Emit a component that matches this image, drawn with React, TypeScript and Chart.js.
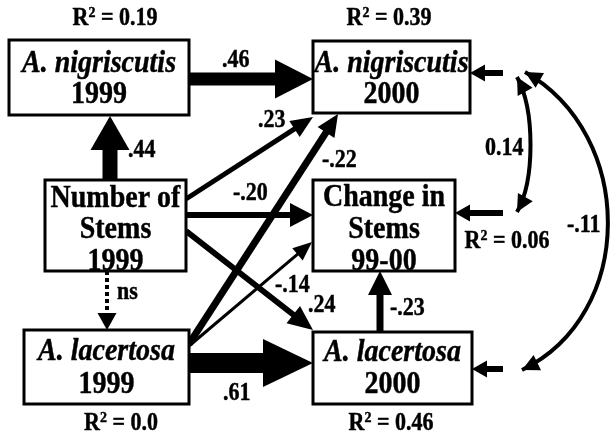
import React, { useEffect, useRef } from 'react';
import { Chart, registerables } from 'chart.js';

Chart.register(...registerables);

// ---------------- data ----------------
const nodeKeys = ['nig99', 'nig00', 'stems', 'change', 'lac99', 'lac00'];
const nodeLines = [
  ['A. nigriscutis', '1999'],
  ['A. nigriscutis', '2000'],
  ['Number of', 'Stems', '1999'],
  ['Change in', 'Stems', '99-00'],
  ['A. lacertosa', '1999'],
  ['A. lacertosa', '2000'],
];
const nodeItalicFirst = [true, true, false, false, true, true];
const r2Labels = ['0.19', '0.39', '', '0.06', '0.0', '0.46'];

const pathFrom = ['stems', 'nig99', 'stems', 'stems', 'stems', 'lac99', 'lac99', 'lac99', 'lac00', 'stems'];
const pathTo = ['nig99', 'nig00', 'nig00', 'change', 'lac00', 'nig00', 'change', 'lac00', 'change', 'lac99'];
const pathCoef = [0.44, 0.46, 0.23, -0.2, 0.24, -0.22, -0.14, 0.61, -0.23, NaN];
const pathLabels = ['.44', '.46', '.23', '-.20', '.24', '-.22', '-.14', '.61', '-.23', 'ns'];

const corrA = ['nig00', 'nig00'];
const corrB = ['change', 'lac00'];
const corrLabels = ['0.14', '-.11'];

// ---------------- layout (scale units) ----------------
const BOX: Record<string, number[]> = {
  nig99: [9, 40, 189, 115],
  nig00: [313, 41, 470, 113],
  stems: [45, 180, 186, 271],
  change: [313, 180, 455, 271],
  lac99: [24, 330, 189, 404],
  lac00: [313, 332, 472, 404],
};
const BASELINES: Record<string, number[]> = {
  nig99: [72, 103],
  nig00: [72, 103],
  stems: [207, 238, 270],
  change: [206, 238, 270],
  lac99: [360, 393],
  lac00: [361, 393],
};
const R2_POS: Record<string, number[]> = {
  nig99: [115, 25],
  nig00: [389, 25],
  change: [507, 248],
  lac99: [121, 430],
  lac00: [391, 430],
};
// [x0, y0, tipX, tipY, shaftWidth, headLen, headWidth, labelX, labelY, dashed]
const PATH_GEOM = [
  [110, 180, 110, 116, 15, 34, 39, 128, 157, 0],
  [189, 79, 313, 79, 13, 38, 39, 222, 67, 0],
  [186, 199, 313, 117, 5, 22, 19, 258, 127, 0],
  [186, 215, 313, 215, 6, 23, 24, 233, 200, 0],
  [186, 231, 313, 330, 6, 25, 22, 308, 312, 0],
  [189, 344, 338, 114, 7, 22, 20, 322, 167, 0],
  [189, 346, 312, 242, 3, 19, 16, 275, 292, 0],
  [189, 363, 313, 363, 20, 50, 48, 223, 400, 0],
  [380, 332, 380, 271, 7, 24, 24, 390, 315, 0],
  [107, 271, 107, 330, 4, 17, 19, 117, 299, 1],
];
// residual (disturbance) arrows
const RESID: Record<string, number[]> = {
  nig00: [503, 73, 470, 73],
  change: [503, 213, 455, 213],
  lac00: [503, 369, 472, 369],
};
// curved correlations: [p0x,p0y,c1x,c1y,c2x,c2y,p3x,p3y,width,labelX,labelY]
const CORR_GEOM = [
  [517, 77, 535, 110, 535, 180, 517, 212, 4, 485, 155],
  [525, 72, 636, 135, 636, 315, 522, 370, 4, 567, 232],
];

const SERIF = '"Liberation Serif", "Times New Roman", serif';
const VSCALE = 1.1;

function drawArrow(ctx: CanvasRenderingContext2D, x0: number, y0: number, x1: number, y1: number,
  w: number, hl: number, hw: number, dashed: boolean) {
  const dx = x1 - x0, dy = y1 - y0;
  const L = Math.hypot(dx, dy);
  const ux = dx / L, uy = dy / L;
  const bx = x1 - ux * hl, by = y1 - uy * hl;
  ctx.save();
  ctx.strokeStyle = '#000';
  ctx.fillStyle = '#000';
  ctx.lineWidth = w;
  ctx.lineCap = 'butt';
  if (dashed) ctx.setLineDash([4, 3]);
  ctx.beginPath();
  ctx.moveTo(x0, y0);
  ctx.lineTo(bx + ux, by + uy);
  ctx.stroke();
  ctx.setLineDash([]);
  ctx.beginPath();
  ctx.moveTo(x1, y1);
  ctx.lineTo(bx - uy * hw / 2, by + ux * hw / 2);
  ctx.lineTo(bx + uy * hw / 2, by - ux * hw / 2);
  ctx.closePath();
  ctx.fill();
  ctx.restore();
}

function drawHead(ctx: CanvasRenderingContext2D, fx: number, fy: number, tx: number, ty: number, hl: number, hw: number) {
  const dx = tx - fx, dy = ty - fy;
  const L = Math.hypot(dx, dy);
  const ux = dx / L, uy = dy / L;
  const bx = tx - ux * hl, by = ty - uy * hl;
  ctx.beginPath();
  ctx.moveTo(tx, ty);
  ctx.lineTo(bx - uy * hw / 2, by + ux * hw / 2);
  ctx.lineTo(bx + uy * hw / 2, by - ux * hw / 2);
  ctx.closePath();
  ctx.fill();
}

function textV(ctx: CanvasRenderingContext2D, t: string, x: number, y: number) {
  ctx.save();
  ctx.translate(x, y);
  ctx.scale(1, VSCALE);
  ctx.fillText(t, 0, 0);
  ctx.lineWidth = 0.4;
  ctx.strokeText(t, 0, 0);
  ctx.restore();
}

function drawR2(ctx: CanvasRenderingContext2D, cx: number, by: number, val: string) {
  const big = `bold 22px ${SERIF}`;
  const small = `bold 14px ${SERIF}`;
  ctx.font = big;
  const wR = ctx.measureText('R').width;
  const rest = ' = ' + val;
  const wRest = ctx.measureText(rest).width;
  ctx.font = small;
  const w2 = ctx.measureText('2').width;
  const total = wR + w2 + wRest;
  let x = cx - total / 2;
  ctx.textAlign = 'left';
  ctx.textBaseline = 'alphabetic';
  ctx.font = big;
  textV(ctx, 'R', x, by);
  x += wR;
  ctx.font = small;
  textV(ctx, '2', x, by - 8);
  x += w2;
  ctx.font = big;
  textV(ctx, rest, x, by);
}

const diagramPlugin = {
  id: 'pathDiagram',
  afterDatasetsDraw(chart: any) {
    const ctx: CanvasRenderingContext2D = chart.ctx;
    const xs = chart.scales.x;
    const ys = chart.scales.y;
    const px = (v: number) => xs.getPixelForValue(v);
    const py = (v: number) => ys.getPixelForValue(v);
    ctx.save();
    ctx.fillStyle = '#000';
    ctx.strokeStyle = '#000';

    // paths
    pathFrom.forEach((f, i) => {
      const g = PATH_GEOM[i];
      drawArrow(ctx, px(g[0]), py(g[1]), px(g[2]), py(g[3]), g[4], g[5], g[6], g[9] === 1);
    });

    // residual arrows
    nodeKeys.forEach((k) => {
      const r = RESID[k];
      if (!r) return;
      drawArrow(ctx, px(r[0]), py(r[1]), px(r[2]), py(r[3]), 6, 15, 17, false);
    });

    // correlations
    corrA.forEach((a, i) => {
      const g = CORR_GEOM[i];
      const p = [px(g[0]), py(g[1]), px(g[2]), py(g[3]), px(g[4]), py(g[5]), px(g[6]), py(g[7])];
      ctx.lineWidth = g[8];
      ctx.beginPath();
      ctx.moveTo(p[0], p[1]);
      ctx.bezierCurveTo(p[2], p[3], p[4], p[5], p[6], p[7]);
      ctx.stroke();
      drawHead(ctx, p[2], p[3], p[0], p[1], 17, 17);
      drawHead(ctx, p[4], p[5], p[6], p[7], 17, 17);
    });

    // boxes
    nodeKeys.forEach((k) => {
      const b = BOX[k];
      const x0 = px(b[0]), y0 = py(b[1]), x1 = px(b[2]), y1 = py(b[3]);
      ctx.fillStyle = '#fff';
      ctx.fillRect(x0, y0, x1 - x0, y1 - y0);
      ctx.fillStyle = '#000';
      ctx.lineWidth = 3;
      ctx.strokeRect(x0, y0, x1 - x0, y1 - y0);
    });
    // box texts
    nodeKeys.forEach((k, i) => {
      const b = BOX[k];
      const cx = (px(b[0]) + px(b[2])) / 2;
      ctx.textAlign = 'center';
      ctx.textBaseline = 'alphabetic';
      nodeLines[i].forEach((t, j) => {
        const italic = j === 0 && nodeItalicFirst[i];
        ctx.font = `${italic ? 'italic ' : ''}bold 28px ${SERIF}`;
        textV(ctx, t, cx, py(BASELINES[k][j]));
      });
    });

    // path labels
    ctx.font = `bold 22px ${SERIF}`;
    ctx.textAlign = 'left';
    pathLabels.forEach((t, i) => {
      const g = PATH_GEOM[i];
      textV(ctx, t, px(g[7]), py(g[8]));
    });
    corrLabels.forEach((t, i) => {
      const g = CORR_GEOM[i];
      textV(ctx, t, px(g[9]), py(g[10]));
    });

    // R2
    nodeKeys.forEach((k, i) => {
      const pos = R2_POS[k];
      if (!pos || !r2Labels[i]) return;
      drawR2(ctx, px(pos[0]), py(pos[1]), r2Labels[i]);
    });
    ctx.restore();
  },
};

export default function App() {
  const ref = useRef<HTMLCanvasElement | null>(null);
  useEffect(() => {
    document.body.style.margin = '0';
    const canvas = ref.current;
    if (!canvas) return;
    const centers = nodeKeys.map((k) => {
      const b = BOX[k];
      return { x: (b[0] + b[2]) / 2, y: (b[1] + b[3]) / 2 };
    });
    const chart = new Chart(canvas, {
      type: 'scatter',
      data: {
        datasets: [
          {
            label: 'nodes',
            data: centers,
            pointRadius: 0,
            showLine: false,
          },
        ],
      },
      options: {
        animation: false,
        responsive: false,
        maintainAspectRatio: false,
        devicePixelRatio: 1,
        layout: { padding: 0 },
        plugins: { legend: { display: false }, tooltip: { enabled: false } },
        events: [],
        scales: {
          x: { type: 'linear', min: 0, max: 610, display: false },
          y: { type: 'linear', min: 0, max: 437, reverse: true, display: false },
        },
      },
      plugins: [diagramPlugin],
    });
    return () => chart.destroy();
  }, []);
  return (
    <div style={{ width: 610, height: 437, background: '#fff' }}>
      <canvas ref={ref} width={610} height={437} style={{ display: 'block' }} />
    </div>
  );
}
